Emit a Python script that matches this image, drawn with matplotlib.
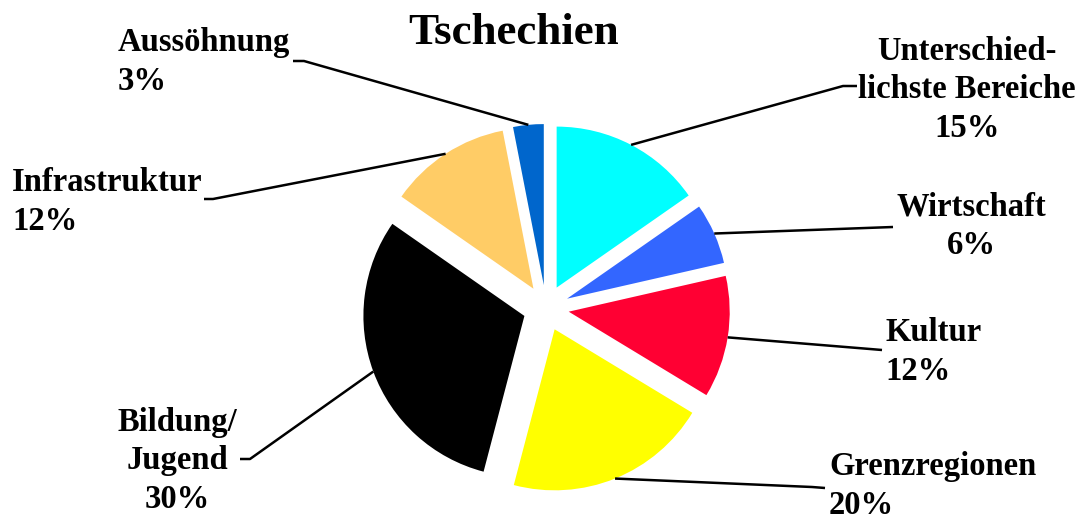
import numpy as np
import matplotlib
matplotlib.use("Agg")
import matplotlib.pyplot as plt

# Tschechien - Verteilung nach Bereichen
LABELS = ["Unterschied-\nlichste Bereiche", "Wirtschaft", "Kultur", "Grenzregionen",
          "Bildung/\nJugend", "Infrastruktur", "Aussöhnung"]
VALUES = [15, 6, 12, 20, 30, 12, 3]
COLORS = ["#00FFFF", "#3366FF", "#FF0033", "#FFFF00", "#000000", "#FFCC66", "#0066CC"]

W, H = 1081, 521

# label layout in pixel coords (x, baseline of last line, alignment)
LABEL_POS = [(967, 137, "center"), (971, 254, "center"), (885, 380, "left"),
             (829, 514, "left"), (177, 508, "center"), (12, 230, "left"),
             (118, 90, "left")]
# leader line: elbow point and end point (pixel coords)
LEADER = [((843, 86), (857, 86)), ((893, 227), (893, 227)), ((870, 349), (882, 350)),
          ((812, 487), (825, 488)), ((250, 459), (240, 459)), ((213, 199), (204, 199)),
          ((304, 61), (293, 61))]

plt.rcParams['font.family'] = ['Liberation Serif', 'DejaVu Serif']


def py(y):
    return H - y


fig = plt.figure(figsize=(W / 100, H / 100), dpi=100)
ax = fig.add_axes([0, 0, 1, 1])

# explode is in data units here (pixels)
wedges, _ = ax.pie(VALUES, colors=COLORS, startangle=90, counterclock=False,
                   explode=[23] * len(VALUES), radius=161, center=(546, 213),
                   wedgeprops=dict(linewidth=0))

ax.set_xlim(0, W)
ax.set_ylim(0, H)
ax.set_aspect("equal")
ax.axis("off")

for w, lab, val, (tx, ty, ha), (elbow, end) in zip(wedges, LABELS, VALUES, LABEL_POS, LEADER):
    mid = np.deg2rad((w.theta1 + w.theta2) / 2)
    cx, cy = w.center
    ex, ey = cx + w.r * np.cos(mid), cy + w.r * np.sin(mid)
    ax.plot([ex, elbow[0], end[0]], [ey, py(elbow[1]), py(end[1])],
            color="black", linewidth=1.8, solid_capstyle="butt")
    ax.text(tx, py(ty), f"{lab}\n{val}%", ha=ha, va="baseline", multialignment=ha,
            fontsize=23.5, fontweight="bold", linespacing=1.32)

ax.text(514, py(44), "Tschechien", ha="center", va="baseline",
        fontsize=32.5, fontweight="bold")

fig.savefig("out.png", dpi=100)
